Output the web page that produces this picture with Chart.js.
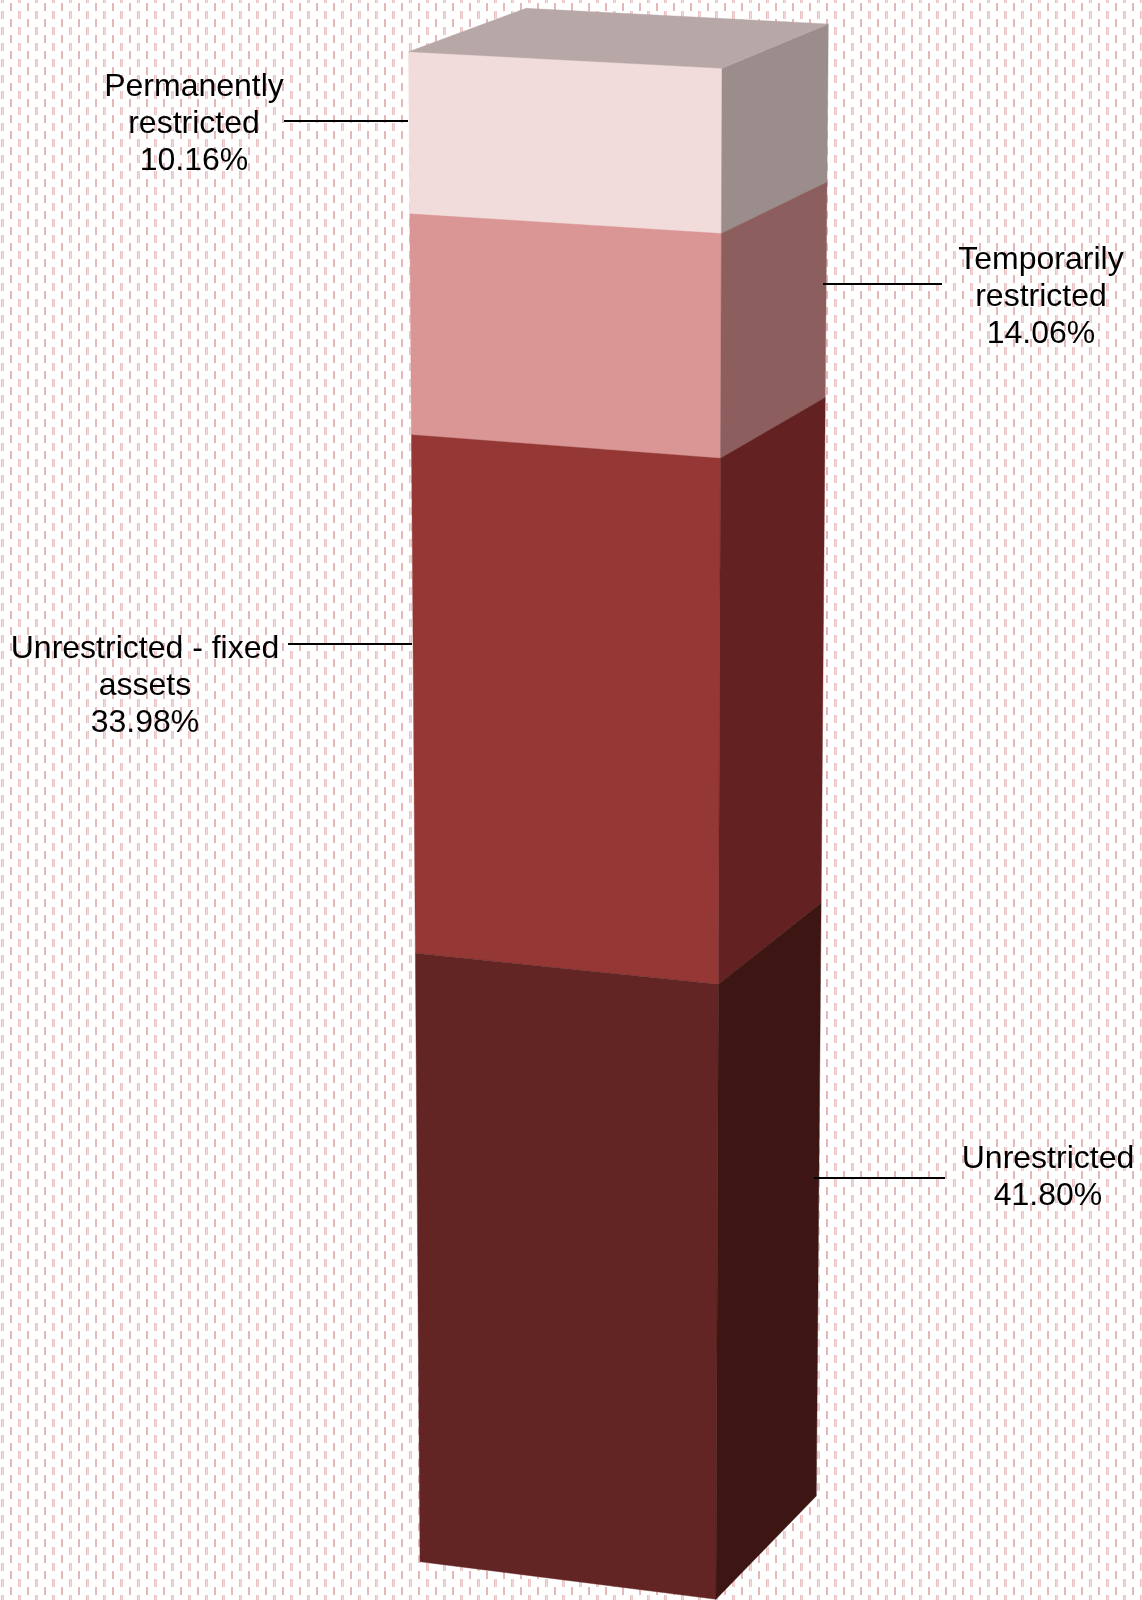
<!DOCTYPE html>
<html>
<head>
<meta charset="utf-8">
<style>
html,body{margin:0;padding:0;background:#fff;}
canvas{display:block;}
</style>
<script src="https://cdn.jsdelivr.net/npm/chart.js@4/dist/chart.umd.js"></script>
</head>
<body>
<canvas id="c" width="1142" height="1600"></canvas>
<script>
// Data (bottom of the stack first)
const categories = ['Net assets'];
const seriesNames = ['Unrestricted', 'Unrestricted - fixed assets', 'Temporarily restricted', 'Permanently restricted'];
const seriesValues = [41.80, 33.98, 14.06, 10.16];
const labelLines = [['Unrestricted'], ['Unrestricted - fixed', 'assets'], ['Temporarily', 'restricted'], ['Permanently', 'restricted']];
const frontColors = ['#632523', '#953735', '#D99694', '#F2DCDB'];
const sideColors = ['#3D1614', '#632221', '#8C5F5E', '#9B8D8B'];
const topColor = '#B7A7A6';

// Projected box: each vertical edge of the column, with its foreshortening factor
const edges = {
  frontLeft:  { bottom: [420, 1561.7],  top: [408.5, 51.7], c: 0.94 },
  frontRight: { bottom: [716, 1599.3],  top: [722, 68.3], c: 0.935 },
  backRight:  { bottom: [816.3, 1496],  top: [828.3, 24], c: 0.94 }
};
const topBackLeft = [526, 8.3];

// Label layout: centre x, first baseline, leader from-to and leader y
const labelLayout = [
  { cx: 1048, y: 1168, x1: 814, x2: 945, ly: 1178 },
  { cx: 145,  y: 658,  x1: 288, x2: 412, ly: 644 },
  { cx: 1041, y: 269,  x1: 823, x2: 942, ly: 284 },
  { cx: 194,  y: 96,   x1: 284, x2: 408, ly: 121 }
];
const FONT = '32px "Liberation Sans", Arial, sans-serif';
const LINE_H = 37;

function edgePoint(edge, t) {
  const r = t >= 1 ? 1 : edge.c * t / (1 - t);
  const s = t >= 1 ? 1 : r / (1 + r);
  return [edge.bottom[0] + (edge.top[0] - edge.bottom[0]) * s,
          edge.bottom[1] + (edge.top[1] - edge.bottom[1]) * s];
}
function quad(ctx, pts, color) {
  ctx.beginPath();
  pts.forEach((p, i) => i ? ctx.lineTo(p[0], p[1]) : ctx.moveTo(p[0], p[1]));
  ctx.closePath();
  ctx.fillStyle = color;
  ctx.fill();
  ctx.strokeStyle = color;
  ctx.lineWidth = 0.4;
  ctx.stroke();
}
function makeBackground() {
  const tile = document.createElement('canvas');
  tile.width = 17; tile.height = 16;
  const g = tile.getContext('2d');
  g.fillStyle = '#fff';
  g.fillRect(0, 0, 17, 16);
  [[1, '#EBC0C0'], [2, '#F3D6D6'], [3, '#EFCACA']].forEach(([x, col]) => {
    g.fillStyle = col;
    g.fillRect(x, 11, 1, 8);
    g.fillRect(x, -5, 1, 8);
  });
  g.fillStyle = '#E9B7B7'; g.fillRect(10, 3, 2, 8);
  return tile;
}
const warp3d = {
  id: 'warp3d',
  beforeDraw(chart) {
    const ctx = chart.ctx;
    ctx.save();
    ctx.fillStyle = ctx.createPattern(makeBackground(), 'repeat');
    ctx.fillRect(0, 0, chart.width, chart.height);
    ctx.restore();
  },
  // The bar elements hold the stacked range on the y scale; warp it onto the column's faces.
  beforeDatasetDraw(chart, args) {
    const ctx = chart.ctx, y = chart.scales.y;
    const bar = chart.getDatasetMeta(args.index).data[0];
    const t0 = y.getValueForPixel(bar.base) / 100;
    const t1 = y.getValueForPixel(bar.y) / 100;
    const ds = chart.data.datasets[args.index];
    ctx.save();
    quad(ctx, [edgePoint(edges.frontLeft, t0), edgePoint(edges.frontRight, t0),
               edgePoint(edges.frontRight, t1), edgePoint(edges.frontLeft, t1)], ds.backgroundColor);
    quad(ctx, [edgePoint(edges.frontRight, t0), edgePoint(edges.backRight, t0),
               edgePoint(edges.backRight, t1), edgePoint(edges.frontRight, t1)], ds.sideColor);
    ctx.restore();
    return false;
  },
  afterDatasetsDraw(chart) {
    const ctx = chart.ctx;
    ctx.save();
    quad(ctx, [edges.frontLeft.top, edges.frontRight.top, edges.backRight.top, topBackLeft], topColor);
    ctx.font = FONT;
    ctx.fillStyle = '#000';
    ctx.textAlign = 'center';
    ctx.textBaseline = 'alphabetic';
    chart.data.datasets.forEach((ds, i) => {
      const lay = labelLayout[i];
      const lines = labelLines[i].concat(ds.data[0].toFixed(2) + '%');
      lines.forEach((ln, k) => ctx.fillText(ln, lay.cx, lay.y + k * LINE_H));
      ctx.beginPath();
      ctx.moveTo(lay.x1, lay.ly);
      ctx.lineTo(lay.x2, lay.ly);
      ctx.strokeStyle = '#000';
      ctx.lineWidth = 2;
      ctx.stroke();
    });
    ctx.restore();
  }
};
new Chart(document.getElementById('c'), {
  type: 'bar',
  plugins: [warp3d],
  data: {
    labels: categories,
    datasets: seriesNames.map((name, i) => ({
      label: name,
      data: [seriesValues[i]],
      backgroundColor: frontColors[i],
      sideColor: sideColors[i],
      barPercentage: 1,
      categoryPercentage: 1
    }))
  },
  options: {
    responsive: false,
    animation: false,
    layout: { padding: { top: 52, bottom: 38, left: 409, right: 426 } },
    plugins: { legend: { display: false }, tooltip: { enabled: false }, title: { display: false } },
    scales: {
      x: { stacked: true, display: false },
      y: { stacked: true, display: false, min: 0, max: 100 }
    }
  }
});
</script>
</body>
</html>
